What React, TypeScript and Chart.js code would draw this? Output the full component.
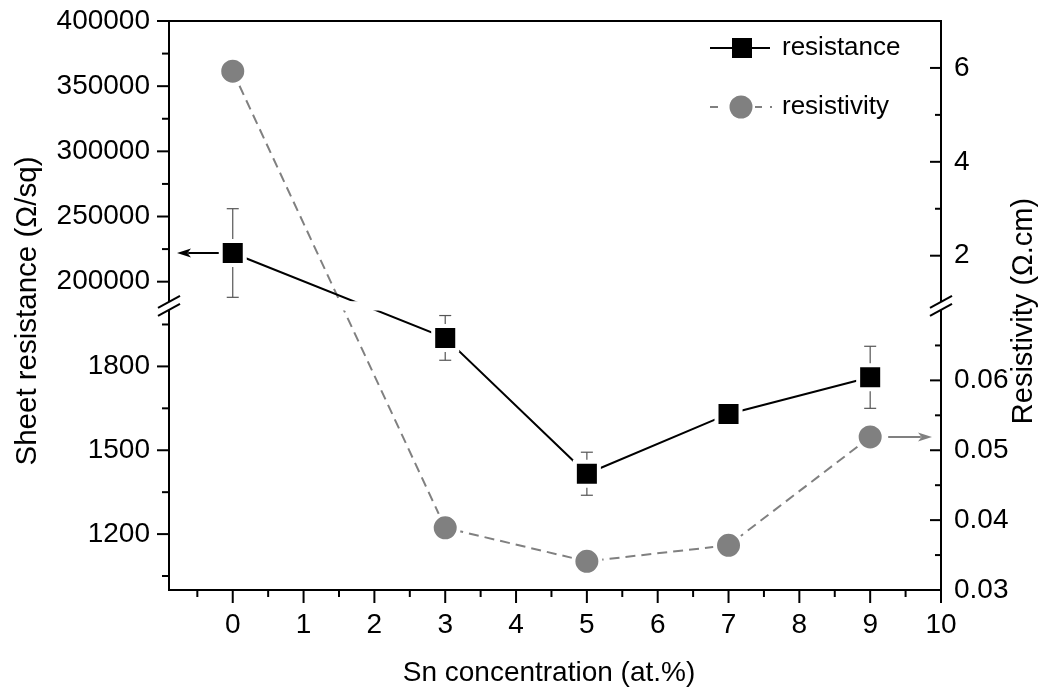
import { useEffect, useRef } from 'react';
import { Chart, registerables, LinearScale } from 'chart.js';

// ---- data ----
const snConcentration = [0, 3, 5, 7, 9];
const sheetResistance = [222000, 1902, 1416, 1630, 1761];
const sheetResistanceError = [34000, 80, 77, 0, 111];
const resistivity = [5.93, 0.0389, 0.0341, 0.0364, 0.0519];

// ---- axes ----
const xRange = [-0.9, 10];
const xMajorTicks = [0, 1, 2, 3, 4, 5, 6, 7, 8, 9, 10];
const xMinorTicks = [-0.5, 0.5, 1.5, 2.5, 3.5, 4.5, 5.5, 6.5, 7.5, 8.5, 9.5];

const leftLowerRange = [1000, 2000];
const leftUpperRange = [185000, 400000];
const leftMajorTicks = [1200, 1500, 1800, 200000, 250000, 300000, 350000, 400000];
const leftMinorTicks = [1050, 1350, 1650, 1950, 225000, 275000, 325000, 375000];

const rightLowerRange = [0.03, 0.07];
const rightUpperRange = [1.03, 7];
const rightMajorTicks = [0.03, 0.04, 0.05, 0.06, 2, 4, 6];
const rightMinorTicks = [0.035, 0.045, 0.055, 0.065, 3, 5];

const seriesLabels = ['resistance', 'resistivity'];
const xTitle = 'Sn concentration (at.%)';
const leftTitle = 'Sheet resistance (Ω/sq)';
const rightTitle = 'Resistivity (Ω.cm)';

// ---- layout / style ----
const FONT_FAMILY = '"Liberation Sans", Arial, Helvetica, sans-serif';
const TICK_FONT_SIZE = 28;
const LEGEND_FONT_SIZE = 26;
const GRAY = '#808080';
// share of the axis height given to the lower and upper parts of a broken axis
const LOWER_SPAN = [0, 0.4912];
const UPPER_SPAN = [0.5075, 1];

type Segment = { lo: number; hi: number; d0: number; d1: number };

const makeSegments = (lower: number[], upper: number[]): Segment[] => [
  { lo: lower[0], hi: lower[1], d0: LOWER_SPAN[0], d1: LOWER_SPAN[1] },
  { lo: upper[0], hi: upper[1], d0: UPPER_SPAN[0], d1: UPPER_SPAN[1] },
];

const AXIS_SEGMENTS: Record<string, Segment[]> = {
  yLeft: makeSegments(leftLowerRange, leftUpperRange),
  yRight: makeSegments(rightLowerRange, rightUpperRange),
};
const AXIS_MAJOR: Record<string, number[]> = {
  yLeft: leftMajorTicks,
  yRight: rightMajorTicks,
};

function valueToDecimal(segs: Segment[], v: number) {
  const s = v >= segs[1].lo ? segs[1] : segs[0];
  return s.d0 + ((v - s.lo) / (s.hi - s.lo)) * (s.d1 - s.d0);
}
function decimalToValue(segs: Segment[], d: number) {
  const s = d >= segs[1].d0 ? segs[1] : segs[0];
  return s.lo + ((d - s.d0) / (s.d1 - s.d0)) * (s.hi - s.lo);
}

// Linear scale with a gap: two value ranges stacked on one axis.
class BrokenLinearScale extends (LinearScale as any) {
  static id = 'brokenLinear';
  buildTicks() {
    return AXIS_MAJOR[this.id].map((value: number) => ({ value }));
  }
  getPixelForValue(value: number) {
    if (value === null || value === undefined || isNaN(value)) return NaN;
    return this.getPixelForDecimal(valueToDecimal(AXIS_SEGMENTS[this.id], value));
  }
  getValueForPixel(pixel: number) {
    return decimalToValue(AXIS_SEGMENTS[this.id], this.getDecimalForPixel(pixel));
  }
}

Chart.register(...registerables, BrokenLinearScale as any);

function line(ctx: CanvasRenderingContext2D, x1: number, y1: number, x2: number, y2: number) {
  ctx.beginPath();
  ctx.moveTo(x1, y1);
  ctx.lineTo(x2, y2);
  ctx.stroke();
}

function arrow(ctx: CanvasRenderingContext2D, x1: number, x2: number, y: number, color: string) {
  const dir = Math.sign(x2 - x1);
  const head = 14;
  ctx.save();
  ctx.strokeStyle = color;
  ctx.fillStyle = color;
  ctx.lineWidth = 2;
  line(ctx, x1, y, x2 - dir * head * 0.8, y);
  ctx.beginPath();
  ctx.moveTo(x2, y);
  ctx.lineTo(x2 - dir * head, y - 4.5);
  ctx.lineTo(x2 - dir * head * 0.75, y);
  ctx.lineTo(x2 - dir * head, y + 4.5);
  ctx.closePath();
  ctx.fill();
  ctx.restore();
}

const decorations = {
  id: 'decorations',
  beforeDatasetsDraw(chart: any) {
    // error bars of the sheet resistance
    const ctx: CanvasRenderingContext2D = chart.ctx;
    const xs = chart.scales.x;
    const ys = chart.scales.yLeft;
    ctx.save();
    ctx.strokeStyle = '#555';
    ctx.lineWidth = 1.2;
    snConcentration.forEach((xv, i) => {
      const e = sheetResistanceError[i];
      if (!e) return;
      const px = xs.getPixelForValue(xv);
      const top = ys.getPixelForValue(sheetResistance[i] + e);
      const bot = ys.getPixelForValue(sheetResistance[i] - e);
      line(ctx, px, top, px, bot);
      line(ctx, px - 6, top, px + 6, top);
      line(ctx, px - 6, bot, px + 6, bot);
    });
    ctx.restore();
  },
  afterDatasetsDraw(chart: any) {
    // blank band where the y axes are broken
    const ctx: CanvasRenderingContext2D = chart.ctx;
    const { left, right } = chart.chartArea;
    const ys = chart.scales.yLeft;
    const yLow = ys.getPixelForDecimal(LOWER_SPAN[1]);
    const yHigh = ys.getPixelForDecimal(UPPER_SPAN[0]);
    ctx.save();
    ctx.fillStyle = '#fff';
    ctx.fillRect(left + 2, yHigh, right - left - 4, yLow - yHigh);
    ctx.restore();
  },
  afterDraw(chart: any) {
    const ctx: CanvasRenderingContext2D = chart.ctx;
    const { left, right, top, bottom } = chart.chartArea;
    const xs = chart.scales.x;
    const yl = chart.scales.yLeft;
    const yr = chart.scales.yRight;
    ctx.save();
    ctx.strokeStyle = '#000';
    ctx.lineWidth = 2;

    // frame top
    line(ctx, left - 1, top, right + 1, top);

    // tick marks
    leftMajorTicks.forEach((v) => { const y = yl.getPixelForValue(v); line(ctx, left - 12, y, left, y); });
    leftMinorTicks.forEach((v) => { const y = yl.getPixelForValue(v); line(ctx, left - 7, y, left, y); });
    rightMajorTicks.forEach((v) => { const y = yr.getPixelForValue(v); line(ctx, right - 11, y, right, y); });
    rightMinorTicks.forEach((v) => { const y = yr.getPixelForValue(v); line(ctx, right - 6, y, right, y); });
    xMajorTicks.forEach((v) => { const x = xs.getPixelForValue(v); line(ctx, x, bottom, x, bottom + 13); });
    xMinorTicks.forEach((v) => { const x = xs.getPixelForValue(v); line(ctx, x, bottom, x, bottom + 7); });

    // axis break marks
    const yc = (yl.getPixelForDecimal(LOWER_SPAN[1]) + yl.getPixelForDecimal(UPPER_SPAN[0])) / 2;
    [left, right].forEach((ax) => {
      const dx = 11;
      const dy = 6;
      const gap = 4;
      ctx.fillStyle = '#fff';
      ctx.beginPath();
      ctx.moveTo(ax - dx, yc - gap + dy);
      ctx.lineTo(ax + dx, yc - gap - dy);
      ctx.lineTo(ax + dx, yc + gap - dy);
      ctx.lineTo(ax - dx, yc + gap + dy);
      ctx.closePath();
      ctx.fill();
      line(ctx, ax - dx, yc - gap + dy, ax + dx, yc - gap - dy);
      line(ctx, ax - dx, yc + gap + dy, ax + dx, yc + gap - dy);
    });
    ctx.restore();

    // arrows pointing each series to its axis
    const p0x = xs.getPixelForValue(snConcentration[0]);
    const p0y = yl.getPixelForValue(sheetResistance[0]);
    arrow(ctx, p0x - 14, left + 8, p0y, '#000');
    const last = snConcentration.length - 1;
    const pnx = xs.getPixelForValue(snConcentration[last]);
    const pny = yr.getPixelForValue(resistivity[last]);
    arrow(ctx, pnx + 18, right - 9, pny, GRAY);

    // legend
    ctx.save();
    ctx.font = `${LEGEND_FONT_SIZE}px ${FONT_FAMILY}`;
    ctx.textAlign = 'left';
    ctx.textBaseline = 'middle';
    ctx.fillStyle = '#000';
    const ly1 = 48;
    const ly2 = 107;
    ctx.strokeStyle = '#000';
    ctx.lineWidth = 2;
    line(ctx, 710, ly1, 770, ly1);
    ctx.fillRect(732, ly1 - 10, 20, 20);
    ctx.fillText(seriesLabels[0], 782, ly1);

    ctx.strokeStyle = GRAY;
    ctx.setLineDash([8, 37, 7, 8, 2, 100]);
    line(ctx, 710, ly2, 772, ly2);
    ctx.setLineDash([]);
    ctx.fillStyle = GRAY;
    ctx.beginPath();
    ctx.arc(741, ly2, 11.5, 0, Math.PI * 2);
    ctx.fill();
    ctx.fillStyle = '#000';
    ctx.fillText(seriesLabels[1], 782, ly2);

    // axis titles
    ctx.textAlign = 'center';
    ctx.font = `28px ${FONT_FAMILY}`;
    ctx.fillText(xTitle, 549, 673);
    ctx.font = `29.5px ${FONT_FAMILY}`;
    ctx.save();
    ctx.translate(28, 311);
    ctx.rotate(-Math.PI / 2);
    ctx.fillText(leftTitle, 0, 0);
    ctx.restore();
    ctx.font = `29px ${FONT_FAMILY}`;
    ctx.save();
    ctx.translate(1024, 311);
    ctx.rotate(-Math.PI / 2);
    ctx.fillText(rightTitle, 0, 0);
    ctx.restore();
    ctx.restore();
  },
};

const tickFont = { family: FONT_FAMILY, size: TICK_FONT_SIZE };

// fixed box sizes so the plot area lands at the same place every time
const fixWidth = (w: number) => (s: any) => {
  s.width = w;
  s.paddingTop = 0;
  s.paddingBottom = 0;
};

export default function App() {
  const ref = useRef<HTMLCanvasElement>(null);

  useEffect(() => {
    const canvas = ref.current;
    if (!canvas) return;
    const chart = new Chart(canvas, {
      type: 'line',
      data: {
        datasets: [
          {
            label: seriesLabels[0],
            data: snConcentration.map((x, i) => ({ x, y: sheetResistance[i] })),
            yAxisID: 'yLeft',
            borderColor: '#000',
            borderWidth: 2,
            tension: 0,
            pointStyle: 'rect',
            pointRadius: 17,
            pointBackgroundColor: '#000',
            pointBorderColor: '#fff',
            pointBorderWidth: 4,
          },
          {
            label: seriesLabels[1],
            data: snConcentration.map((x, i) => ({ x, y: resistivity[i] })),
            yAxisID: 'yRight',
            borderColor: GRAY,
            borderWidth: 2,
            borderDash: [10, 6],
            tension: 0,
            pointStyle: 'circle',
            pointRadius: 13.5,
            pointBackgroundColor: GRAY,
            pointBorderColor: '#fff',
            pointBorderWidth: 4,
          },
        ],
      } as any,
      options: {
        responsive: false,
        animation: false,
        events: [],
        layout: { padding: { top: 20, left: 0, right: 0, bottom: 0 } },
        plugins: { legend: { display: false }, tooltip: { enabled: false } },
        scales: {
          x: {
            type: 'linear',
            position: 'bottom',
            min: xRange[0],
            max: xRange[1],
            afterBuildTicks: (s: any) => { s.ticks = xMajorTicks.map((value) => ({ value })); },
            afterFit: (s: any) => { s.height = 99; s.paddingLeft = 0; s.paddingRight = 0; },
            grid: { display: false, drawTicks: false, tickLength: 0 },
            border: { display: true, color: '#000', width: 2 },
            ticks: { font: tickFont, color: '#000', padding: 18, autoSkip: false, maxRotation: 0, callback: (v: any) => String(v) },
          },
          yLeft: {
            type: 'brokenLinear',
            position: 'left',
            min: leftLowerRange[0],
            max: leftUpperRange[1],
            afterFit: fixWidth(169),
            grid: { display: false, drawTicks: false, tickLength: 0 },
            border: { display: true, color: '#000', width: 2 },
            ticks: { font: tickFont, color: '#000', padding: 19, autoSkip: false, callback: (v: any) => String(v) },
          },
          yRight: {
            type: 'brokenLinear',
            position: 'right',
            min: rightLowerRange[0],
            max: rightUpperRange[1],
            afterFit: fixWidth(103),
            grid: { display: false, drawTicks: false, tickLength: 0 },
            border: { display: true, color: '#000', width: 2 },
            ticks: { font: tickFont, color: '#000', padding: 13, autoSkip: false, callback: (v: any) => String(v) },
          },
        } as any,
      },
      plugins: [decorations],
    });
    return () => chart.destroy();
  }, []);

  return (
    <div style={{ position: 'fixed', left: 0, top: 0, width: 1044, height: 689, background: '#fff' }}>
      <canvas ref={ref} width={1044} height={689} style={{ display: 'block' }} />
    </div>
  );
}
